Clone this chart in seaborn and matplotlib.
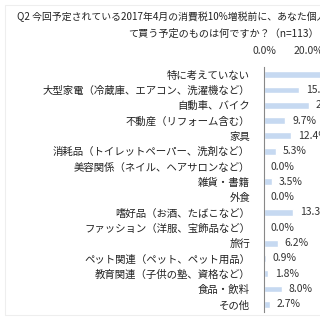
import matplotlib
matplotlib.use('Agg')
import matplotlib.pyplot as plt
from matplotlib.patches import Rectangle
import seaborn as sns
import pandas as pd

categories = [
    "特に考えていない",
    "大型家電（冷蔵庫、エアコン、洗濯機など）",
    "自動車、バイク",
    "不動産（リフォーム含む）",
    "家具",
    "消耗品（トイレットペーパー、洗剤など）",
    "美容関係（ネイル、ヘアサロンなど）",
    "雑貨・書籍",
    "外食",
    "嗜好品（お酒、たばこなど）",
    "ファッション（洋服、宝飾品など）",
    "旅行",
    "ペット関連（ペット、ペット用品）",
    "教育関連（子供の塾、資格など）",
    "食品・飲料",
    "その他",
]
values = [38.9, 15.9, 20.4, 9.7, 12.4, 5.3, 0.0, 3.5, 0.0, 13.3, 0.0, 6.2, 0.9, 1.8, 8.0, 2.7]
x_ticks = [0, 20, 40]
x_ticklabels = ["0.0%", "20.0%", "40.0%"]
title_line1 = "Q2 今回予定されている2017年4月の消費税10%増税前に、あなた個人が駆け込みとし"
title_line2 = "て買う予定のものは何ですか？（n=113）"

sns.set_style('white')
plt.rcParams['font.family'] = ['Noto Sans CJK JP', 'DejaVu Sans']

df = pd.DataFrame({'category': categories, 'value': values})

FS = 7.5
W = H = 320
fig = plt.figure(figsize=(3.2, 3.2), dpi=100)
ax = fig.add_axes([264 / W, 8 / H, 110 / W, 245 / H])
sns.barplot(data=df, x='value', y='category', orient='h', color='#c6d9f1',
            saturation=1, width=0.45, ax=ax, order=categories)
ax.set_xlim(0, 50)
ax.set_ylim(len(categories) - 0.5, -0.5)
ax.set_xlabel('')
ax.set_ylabel('')

ax.xaxis.tick_top()
ax.set_xticks(x_ticks)
ax.set_xticklabels(x_ticklabels, fontsize=FS, color='#333333')
ax.tick_params(axis='x', length=0, pad=8)

ax.set_yticks(range(len(categories)))
ax.set_yticklabels(categories, fontsize=FS, color='#222222')
ax.tick_params(axis='y', which='major', length=0, pad=10)
ax.set_yticks([i + 0.5 for i in range(-1, len(categories))], minor=True)
ax.tick_params(axis='y', which='minor', length=2.5, width=0.6, color='#888888', direction='out')

for s in ['top', 'right', 'bottom']:
    ax.spines[s].set_visible(False)
ax.spines['left'].set_color('#888888')
ax.spines['left'].set_linewidth(0.8)

for i, v in enumerate(values):
    ax.annotate(f"{v:.1f}%", xy=(v, i), xytext=(5, 0), textcoords='offset points',
                va='center', ha='left', fontsize=FS, color='#333333', annotation_clip=False)

fig.text(17 / W, 1 - 17 / H, title_line1, ha='left', va='center', fontsize=7.1, color='#222222')
fig.text(128 / W, 1 - 34 / H, title_line2, ha='left', va='center', fontsize=7.3, color='#222222')

fig.patches.append(Rectangle((5 / W, 5 / H), 1.0, 310 / H, transform=fig.transFigure,
                             fill=False, edgecolor='#eeeeee', linewidth=0.8))

fig.savefig('out.png', dpi=100, facecolor='white')
